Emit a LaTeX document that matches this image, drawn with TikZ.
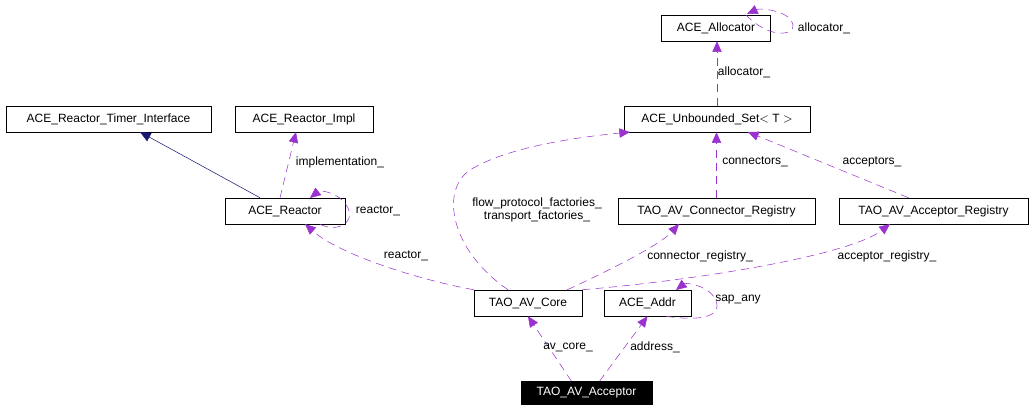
\documentclass[tikz,border=0pt]{standalone}
\usepackage{fontspec}
\setmainfont{Liberation Sans}
\usetikzlibrary{arrows.meta}
\definecolor{usecol}{RGB}{154,50,205}
\definecolor{inhcol}{RGB}{25,25,112}
\begin{document}
\begin{tikzpicture}[x=0.75pt,y=-0.75pt,
  cls/.style={draw,rectangle,minimum height=19.5pt,inner xsep=4pt,font=\fontsize{9}{10}\selectfont},
  use/.style={->,>={Triangle[length=8pt,width=7pt]},usecol,dashed,dash pattern=on 6pt off 4pt,thin},
  lbl/.style={font=\fontsize{9}{10}\selectfont,align=center}]
\useasboundingbox (0,0) rectangle (1035,412);
\node[cls,minimum width=81.75pt] (alloc) at (716,28) {ACE\_Allocator};
\node[cls,minimum width=139.5pt] (uset) at (717,119) {ACE\_Unbounded\_Set$<$ T $>$};
\node[cls,minimum width=153.75pt] (timer) at (108.5,119) {ACE\_Reactor\_Timer\_Interface};
\node[cls,minimum width=103.5pt] (impl) at (304,119) {ACE\_Reactor\_Impl};
\node[cls,minimum width=90pt] (reactor) at (285,211) {ACE\_Reactor};
\node[cls,minimum width=147.75pt] (conreg) at (716.5,211) {TAO\_AV\_Connector\_Registry};
\node[cls,minimum width=141.75pt] (accreg) at (933.5,211) {TAO\_AV\_Acceptor\_Registry};
\node[cls,minimum width=81pt] (core) at (528,303) {TAO\_AV\_Core};
\node[cls,minimum width=65.25pt] (addr) at (647.5,303) {ACE\_Addr};
\node[cls,fill=black,text=white,minimum width=98.25pt,minimum height=17.25pt] (acc) at (586.5,393) {TAO\_AV\_Acceptor};
% uses
\draw[use] (acc.north) ++(-15,0) -- (core.south);
\draw[use] (acc.north) ++(13,0) -- (addr.south);
\node[lbl] (l1) at (568,347) {av\_core\_};
\node[lbl] (l2) at (655,347) {address\_};
\draw[use] (addr.south east) ++(-25,0) .. controls (705,322) and (725,315) .. (714,297) .. controls (705,284) and (685,283) .. (676,290);
\node[lbl] (l3) at (738,300) {sap\_any};
\draw[use] (core.north west) .. controls (420,280) and (340,255) .. (305,224);
\node[lbl] (l4) at (406,256) {reactor\_};
\draw[use] (core.north east) ++(-15,0) .. controls (610,270) and (660,245) .. (679,224);
\node[lbl] (l5) at (700,256) {connector\_registry\_};
\draw[use] (core.north east) .. controls (700,280) and (850,255) .. (890,224);
\node[lbl] (l6) at (887,256) {acceptor\_registry\_};
\draw[use] (core.north) ++(-20,0) .. controls (450,250) and (440,190) .. (470,170) .. controls (510,145) and (590,136) .. (630,132);
\node[lbl] (l7) at (537,210) {flow\_protocol\_factories\_\\transport\_factories\_};
\draw[use] (conreg.north) -- (conreg.north |- uset.south);
\node[lbl] (l8) at (755,162) {connectors\_};
\draw[use] (accreg.north) ++(-25,0) -- (748,132);
\node[lbl] (l9) at (872,162) {acceptors\_};
\draw[use] (uset.north) -- (uset.north |- alloc.south);
\node[lbl] (l10) at (744,72) {allocator\_};
\draw[use] (alloc.north east) ++(-25,0) .. controls (770,40) and (795,35) .. (793,25) .. controls (790,10) and (760,8) .. (747,14);
\node[lbl] (l11) at (824,28) {allocator\_};
\draw[use] (reactor.north) ++(-5,0) -- (296,132);
\node[lbl] (l12) at (340,162) {implementation\_};
\draw[use] (reactor.south east) ++(-25,0) .. controls (335,232) and (355,225) .. (348,208) .. controls (340,192) and (320,190) .. (310,198);
\node[lbl] (l13) at (378,211) {reactor\_};
% inheritance
\draw[inhcol,->,>={Triangle[length=8pt,width=7pt]}] (reactor.north) ++(-25,0) -- (140,132);
\end{tikzpicture}
\end{document}
